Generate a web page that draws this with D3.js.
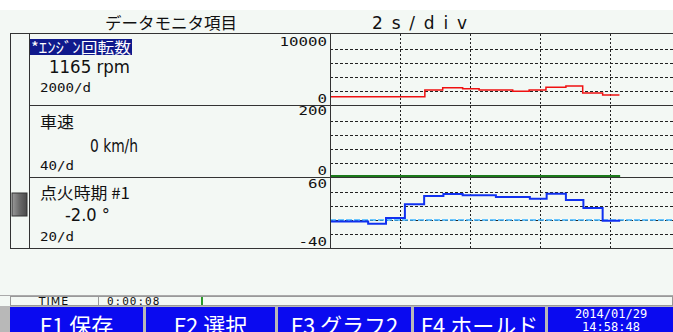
<!DOCTYPE html>
<html>
<head>
<meta charset="utf-8">
<script src="https://cdn.jsdelivr.net/npm/d3@7"></script>
<style>
  body { margin: 0; background: #fff; }
  svg { display: block; }
  .grid line { stroke: #222; stroke-width: 1; shape-rendering: crispEdges; }
  .grid path { display: none; }
</style>
</head>
<body>
<div id="chart"></div>
<script>
// Width and height
var w = 673;
var h = 332;

// data
var rowNames = ["*ｴﾝｼﾞﾝ回転数", "車速", "点火時期 #1"];
var rowValues = ["1165 rpm", "0 km/h", "-2.0 °"];
var rowScales = ["2000/d", "40/d", "20/d"];
var rowMax = [10000, 200, 60];
var rowMin = [0, 0, -40];
var rowMaxLabel = ["10000", "200", "60"];
var rowMinLabel = ["0", "0", "-40"];

var timeTicks = [0, 2, 4, 6, 8];

// step series: time (s) where each step starts, value of that step
var rpmTime = [0, 2.71, 3.22, 3.79, 4.26, 5.22, 5.69, 6.17, 6.74, 7.22, 7.79, 8.27];
var rpmValue = [1165, 2140, 2470, 2330, 2140, 1960, 2140, 2530, 2710, 1710, 1430, 1430];

var speedTime = [0, 8.29];
var speedValue = [0, 0];

var ignTime = [0, 1.09, 1.6, 2.14, 2.69, 3.24, 3.79, 4.74, 5.71, 6.19, 6.74, 7.24, 7.79, 8.29];
var ignValue = [-2, -5.3, 2.9, 22.4, 34.3, 37, 35.3, 32.9, 30.4, 37.6, 28.6, 17.1, -1, -1];

var keyLabels = ["F1 保存", "F2 選択", "F3 グラフ2", "F4 ホールド"];

var bg = "#f3f8f4";
var jp = "'Noto Sans CJK JP', sans-serif";
var mono = "'DejaVu Sans Mono', monospace";

var svg = d3.select("#chart")
  .append("svg")
  .attr("width", w)
  .attr("height", h);

svg.append("rect").attr("width", w).attr("height", h).attr("fill", bg);
svg.append("rect").attr("width", w).attr("height", 10).attr("fill", "#fff");

// header texts
svg.append("text")
  .attr("x", 105).attr("y", 29)
  .attr("textLength", 132).attr("lengthAdjust", "spacingAndGlyphs")
  .style("font-family", jp).style("font-size", "16px").attr("fill", "#111")
  .text("データモニタ項目");
svg.append("text")
  .attr("x", 372).attr("y", 29)
  .attr("textLength", 95).attr("lengthAdjust", "spacing")
  .style("font-family", "'DejaVu Sans', sans-serif").style("font-size", "17px").attr("fill", "#111")
  .text("2s/div");

// layout of the panel
var left = 10, inner = 29, plotX = 330, panelTop = 33, panelBottom = 248;
var rowH = 72;
var rowTop = [33, 105, 177];

// time scale: 2 s per 70 px
var x = d3.scaleLinear().domain([0, 10]).range([plotX, plotX + 350]);

var y = rowTop.map(function(t, i) {
  var b = i == 2 ? panelBottom : t + rowH;
  return d3.scaleLinear().domain([rowMin[i], rowMax[i]]).range([b, b - 70]);
});

svg.append("clipPath").attr("id", "clip")
  .append("rect").attr("x", plotX).attr("y", panelTop)
  .attr("width", w - plotX).attr("height", panelBottom - panelTop);
var plot = svg.append("g").attr("clip-path", "url(#clip)");

// horizontal dotted grid in each row
y.forEach(function(ys, i) {
  var step = (rowMax[i] - rowMin[i]) / 5;
  var vals = d3.range(1, 5).map(function(k) { return rowMin[i] + k * step; });
  plot.append("g")
    .attr("class", "grid")
    .attr("transform", "translate(" + plotX + ",0)")
    .call(d3.axisLeft(ys).tickValues(vals).tickSize(-(w - plotX)).tickFormat(""))
    .selectAll("line").attr("stroke-dasharray", "3,2");
});

// vertical dotted grid (time divisions)
plot.append("g")
  .attr("class", "grid")
  .attr("transform", "translate(0," + panelBottom + ")")
  .call(d3.axisBottom(x).tickValues(timeTicks.slice(1)).tickSize(-(panelBottom - panelTop)).tickFormat(""))
  .selectAll("line").attr("stroke-dasharray", "2,2");

// zero reference line for ignition timing
plot.append("line")
  .attr("x1", plotX).attr("x2", w)
  .attr("y1", y[2](0)).attr("y2", y[2](0))
  .attr("stroke", "#3cb4ff").attr("stroke-width", 1.5)
  .attr("stroke-dasharray", "6,2");

// panel borders
var border = "#333";
svg.append("rect")
  .attr("x", left + 0.5).attr("y", panelTop + 0.5)
  .attr("width", w - left).attr("height", panelBottom - panelTop)
  .attr("fill", "none").attr("stroke", border);
svg.append("line").attr("x1", inner + 0.5).attr("x2", inner + 0.5)
  .attr("y1", panelTop).attr("y2", panelBottom).attr("stroke", border);
svg.append("line").attr("x1", plotX + 0.5).attr("x2", plotX + 0.5)
  .attr("y1", panelTop).attr("y2", panelBottom).attr("stroke", border);
[105, 177].forEach(function(yy) {
  svg.append("line").attr("x1", inner).attr("x2", w).attr("y1", yy + 0.5).attr("y2", yy + 0.5)
    .attr("stroke", border);
});

// scroll thumb
var grad = svg.append("defs").append("linearGradient").attr("id", "thumb");
grad.append("stop").attr("offset", "0%").attr("stop-color", "#9a9a9a");
grad.append("stop").attr("offset", "50%").attr("stop-color", "#6a6a6a");
grad.append("stop").attr("offset", "100%").attr("stop-color", "#4a4a4a");
svg.append("rect").attr("x", 12).attr("y", 193).attr("width", 15).attr("height", 23)
  .attr("fill", "url(#thumb)").attr("stroke", "#333");

// series
var line = function(ys) {
  return d3.line()
    .x(function(d) { return x(d[0]); })
    .y(function(d) { return ys(d[1]); })
    .curve(d3.curveStepAfter);
};
plot.append("path")
  .datum(d3.zip(rpmTime, rpmValue))
  .attr("d", line(y[0]))
  .attr("fill", "none").attr("stroke", "#f01010").attr("stroke-width", 1.5);
plot.append("path")
  .datum(d3.zip(speedTime, speedValue))
  .attr("d", line(y[1]))
  .attr("transform", "translate(0,-1)")
  .attr("fill", "none").attr("stroke", "#1a7a1a").attr("stroke-width", 2);
plot.append("path")
  .datum(d3.zip(ignTime, ignValue))
  .attr("d", line(y[2]))
  .attr("fill", "none").attr("stroke", "#1030f0").attr("stroke-width", 2);

// left side labels
svg.append("rect").attr("x", 30).attr("y", 39).attr("width", 102).attr("height", 16).attr("fill", "#101a8c");
var nameY = [53, 128, 199];
var valueX = [49, 90, 65], valueY = [73, 152, 221], valueW = [81, 48, 45];
var scaleY = [92, 170, 241];
rowNames.forEach(function(n, i) {
  svg.append("text")
    .attr("x", i == 0 ? 31 : 40).attr("y", nameY[i])
    .attr("textLength", i == 0 ? 100 : (i == 1 ? 34 : 90)).attr("lengthAdjust", "spacingAndGlyphs")
    .style("font-family", jp).style("font-size", i == 0 ? "15px" : "16px")
    .attr("fill", i == 0 ? "#fff" : "#111")
    .text(n);
  svg.append("text")
    .attr("x", valueX[i]).attr("y", valueY[i])
    .attr("textLength", valueW[i]).attr("lengthAdjust", "spacingAndGlyphs")
    .style("font-family", "'DejaVu Sans Condensed', 'DejaVu Sans', sans-serif").style("font-size", "17px")
    .attr("fill", "#111")
    .text(rowValues[i]);
  svg.append("text")
    .attr("x", 40).attr("y", scaleY[i])
    .attr("textLength", rowScales[i].length * 8.5).attr("lengthAdjust", "spacingAndGlyphs")
    .style("font-family", mono).style("font-size", "13px").attr("fill", "#111")
    .text(rowScales[i]);
});

// axis range labels
var maxY = [46, 115, 188], minY = [103, 175, 246];
rowMaxLabel.forEach(function(t, i) {
  svg.append("text").attr("x", 327).attr("y", maxY[i]).attr("text-anchor", "end")
    .attr("textLength", t.length * 9.5).attr("lengthAdjust", "spacingAndGlyphs")
    .style("font-family", mono).style("font-size", "12px").attr("fill", "#111").text(t);
  svg.append("text").attr("x", 327).attr("y", minY[i]).attr("text-anchor", "end")
    .attr("textLength", rowMinLabel[i].length * 9.5).attr("lengthAdjust", "spacingAndGlyphs")
    .style("font-family", mono).style("font-size", "12px").attr("fill", "#111").text(rowMinLabel[i]);
});

// TIME status bar
svg.append("line").attr("x1", 0).attr("x2", w).attr("y1", 295.5).attr("y2", 295.5).attr("stroke", "#aaa");
svg.append("rect").attr("x", 10.5).attr("y", 296.5).attr("width", w - 11).attr("height", 9)
  .attr("fill", bg).attr("stroke", "#999");
svg.append("line").attr("x1", 98.5).attr("x2", 98.5).attr("y1", 296).attr("y2", 306).attr("stroke", "#999");
svg.append("text").attr("x", 54).attr("y", 305).attr("text-anchor", "middle")
  .style("font-family", "'DejaVu Sans', sans-serif").style("font-size", "11px").attr("fill", "#111")
  .attr("letter-spacing", "1").text("TIME");
svg.append("text").attr("x", 107).attr("y", 305)
  .style("font-family", mono).style("font-size", "11px").attr("fill", "#111")
  .attr("letter-spacing", "1").text("0:00:08");
svg.append("rect").attr("x", 201).attr("y", 297).attr("width", 2).attr("height", 8).attr("fill", "#2a9a2a");

// function keys
var keyX = [10, 146, 278, 414, 548], keyR = [143, 275, 411, 545, 673];
svg.append("rect").attr("x", 0).attr("y", 306).attr("width", w).attr("height", 26).attr("fill", "#b8b8b8");
keyX.forEach(function(kx, i) {
  svg.append("rect").attr("x", kx).attr("y", 307).attr("width", keyR[i] - kx).attr("height", 25)
    .attr("fill", "#0a0af0");
  if (i < keyLabels.length) {
    svg.append("text").attr("x", (kx + keyR[i]) / 2).attr("y", 334).attr("text-anchor", "middle")
      .style("font-family", jp).style("font-size", "22px").attr("fill", "#fff")
      .text(keyLabels[i]);
  }
});
svg.append("text").attr("x", 611).attr("y", 318).attr("text-anchor", "middle")
  .style("font-family", mono).style("font-size", "12px").attr("fill", "#fff").text("2014/01/29");
svg.append("text").attr("x", 611).attr("y", 331).attr("text-anchor", "middle")
  .style("font-family", mono).style("font-size", "12px").attr("fill", "#fff").text("14:58:48");
</script>
</body>
</html>
